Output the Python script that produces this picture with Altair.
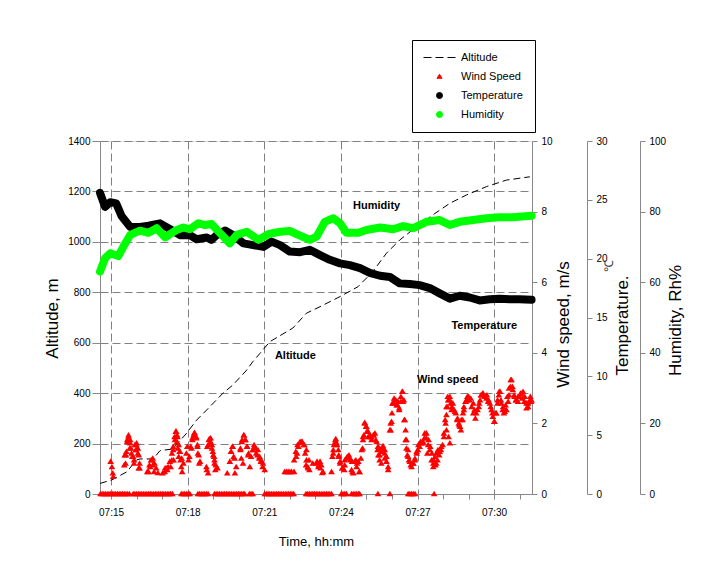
import altair as alt
import pandas as pd

FONT = "Liberation Sans, Arial, sans-serif"

# time in seconds after 07:00:00
TIME_DOMAIN = [874, 1889]

ALT_TIME = [874, 902, 937, 960, 968, 999, 1015, 1043, 1074, 1101, 1132, 1163, 1186, 1219, 1233, 1250,
            1273, 1327, 1359, 1391, 1438, 1480, 1515, 1547, 1578, 1618, 1656, 1696, 1735, 1782, 1829, 1884]
ALT_M = [42, 56, 88, 135, 139, 139, 172, 178, 234, 293, 346, 400, 432, 492, 525, 558,
         604, 658, 717, 743, 783, 822, 882, 955, 1007, 1060, 1107, 1153, 1186, 1219, 1245, 1258]

TEMP_TIME = [874, 886, 898, 912, 925, 945, 968, 988, 1015, 1039, 1062, 1085, 1101, 1125, 1136, 1148,
             1168, 1187, 1211, 1234, 1258, 1277, 1297, 1320, 1344, 1367, 1391, 1414, 1438, 1461, 1485,
             1508, 1532, 1555, 1578, 1602, 1625, 1649, 1672, 1696, 1719, 1743, 1766, 1790, 1813, 1837,
             1860, 1888]
TEMP_C = [25.6, 24.4, 24.8, 24.7, 23.6, 22.7, 22.7, 22.8, 23.0, 22.5, 22.0, 22.0, 21.65, 21.8, 21.6, 22.0,
          22.4, 22.0, 21.3, 21.15, 21.0, 21.45, 21.15, 20.6, 20.55, 20.75, 20.3, 19.9, 19.6, 19.45, 19.2,
          18.8, 18.55, 18.45, 17.9, 17.85, 17.75, 17.5, 17.05, 16.6, 16.85, 16.7, 16.45, 16.55, 16.6, 16.55,
          16.55, 16.5]

HUM_TIME = [874, 886, 898, 917, 929, 945, 968, 988, 1007, 1027, 1054, 1070, 1085, 1105, 1121, 1136,
            1156, 1179, 1195, 1219, 1246, 1269, 1297, 1320, 1344, 1367, 1383, 1402, 1422, 1438, 1453,
            1481, 1500, 1532, 1563, 1586, 1610, 1641, 1672, 1696, 1719, 1751, 1782, 1813, 1844, 1888]
HUM_PCT = [63.0, 66.8, 68.2, 67.4, 70.1, 73.4, 74.6, 74.0, 75.3, 72.7, 74.8, 75.5, 75.0, 76.7, 76.2, 76.5,
           73.9, 71.0, 73.4, 74.3, 72.0, 73.6, 74.3, 74.5, 73.2, 72.0, 72.9, 77.1, 78.1, 76.7, 74.0,
           74.0, 74.8, 75.5, 75.0, 75.9, 75.3, 77.1, 77.6, 76.2, 77.1, 77.6, 78.1, 78.4, 78.4, 78.8]

# non-zero wind readings
WIND_TIME = [
    899, 902, 904, 905,
    931, 935, 938, 941, 945, 947, 950, 954, 958, 960, 963, 965, 967,
    932, 934, 936, 938, 941, 944, 945, 948, 952, 954, 956, 959, 959, 963, 965, 967,
    985, 990, 994, 998, 1002, 1006, 1010, 988, 992, 995, 998, 1001,
    1021, 1027, 1032, 1026, 1030, 1034, 1038,
    1040, 1043, 1046, 1050, 1053, 1056, 1059, 1062, 1066, 1070,
    1043, 1046, 1047, 1049, 1052, 1055, 1055, 1057, 1059, 1061, 1063, 1065, 1067,
    1084, 1087, 1091, 1096, 1100, 1103, 1106, 1109,
    1077, 1079, 1082, 1089, 1091, 1094, 1096, 1100, 1103, 1104, 1107,
    1125, 1128, 1131, 1134, 1137, 1140, 1143, 1146, 1150,
    1124, 1126, 1128, 1130, 1134, 1137, 1139, 1142, 1143, 1145,
    1182, 1185, 1188, 1191, 1173, 1179, 1182, 1186, 1190, 1194,
    1204, 1208, 1212, 1215, 1219, 1222, 1226,
    1204, 1206, 1207, 1210, 1212, 1216, 1220, 1223,
    1233, 1236, 1240, 1244, 1248, 1252, 1256,
    1229, 1233, 1237, 1241, 1245, 1249, 1253, 1257, 1261,
    1308, 1316, 1324, 1312, 1320, 1330,
    1330, 1334, 1338, 1344, 1349, 1354, 1358, 1359, 1363, 1365,
    1335, 1337, 1340, 1344, 1348, 1353, 1356, 1359, 1362, 1366, 1374, 1382,
    1384, 1388, 1392, 1396, 1387, 1391, 1394, 1398,
    1418, 1422, 1425, 1428, 1431, 1435, 1438,
    1420, 1422, 1424, 1427, 1430, 1434, 1435, 1438,
    1444, 1449, 1455, 1459, 1463, 1467,
    1443, 1448, 1449, 1453, 1457, 1463, 1465, 1466, 1469,
    1475, 1478, 1483, 1487, 1489, 1473, 1477, 1481, 1484,
    1492, 1496, 1500, 1504, 1508, 1512, 1517, 1522, 1527, 1531,
    1491, 1492, 1494, 1496, 1499, 1501, 1504, 1508, 1512, 1516, 1520, 1524, 1526,
    1535, 1539, 1543, 1547, 1551,
    1528, 1531, 1531, 1535, 1535, 1539, 1543, 1543, 1547, 1551,
    1557, 1559, 1561, 1565, 1569, 1573, 1577, 1581, 1585, 1588, 1590, 1592, 1594,
    1555, 1557, 1560, 1563, 1567, 1571, 1574, 1577, 1581, 1584, 1586, 1589, 1592, 1594, 1598,
    1596, 1600, 1604, 1610, 1614,
    1598, 1602, 1606, 1610, 1614,
    1618, 1622, 1627, 1632, 1636, 1641, 1646, 1650,
    1618, 1621, 1625, 1629, 1633, 1637, 1641, 1643, 1645, 1649,
    1654, 1658, 1662, 1667, 1671, 1675, 1679,
    1653, 1657, 1657, 1661, 1664, 1664, 1668, 1672, 1676,
    1682, 1685, 1688, 1691, 1696, 1700, 1703, 1708, 1713, 1718, 1722,
    1682, 1686, 1688, 1688, 1690, 1692, 1693, 1696, 1696, 1698,
    1701, 1706, 1710, 1714, 1717, 1720, 1723, 1727, 1729,
    1726, 1729, 1733, 1737, 1742, 1747, 1751, 1756, 1761, 1765,
    1733, 1737, 1740, 1745, 1751, 1754, 1758,
    1769, 1773, 1778, 1783, 1787, 1792, 1796, 1800, 1804,
    1764, 1767, 1770, 1774, 1778, 1782, 1786, 1790, 1794, 1797, 1801, 1805, 1808,
    1808, 1812, 1816, 1820, 1823, 1827, 1831, 1835, 1839, 1843, 1847, 1851, 1856, 1862, 1866, 1871,
    1876, 1880, 1885, 1888,
    1811, 1814, 1817, 1821, 1825, 1829, 1833, 1835, 1838, 1841, 1844, 1848,
    1852, 1856, 1860, 1864, 1868, 1872, 1876, 1880, 1884, 1887,
]
WIND_MS = [
    0.92, 0.77, 0.59, 0.49,
    0.82, 1.10, 1.53, 1.67, 1.53, 1.29, 1.06, 0.96, 1.25, 1.44, 1.29, 1.10, 0.73,
    1.10, 0.87, 1.20, 1.48, 1.62, 1.30, 1.44, 1.15, 1.06, 0.87, 1.39, 1.39, 1.25, 1.15, 0.73, 0.87,
    0.63, 0.82, 0.96, 1.01, 0.87, 0.73, 0.60, 0.63, 0.77, 0.96, 0.82, 0.63,
    0.59, 0.73, 0.68, 0.63, 0.73, 0.77, 0.92,
    0.77, 0.96, 1.25, 1.53, 1.77, 1.62, 1.39, 1.20, 1.01, 0.87,
    1.15, 1.34, 0.96, 1.62, 1.77, 1.67, 1.48, 1.29, 1.06, 1.20, 0.96, 0.77, 0.63,
    1.06, 1.34, 1.58, 1.74, 1.62, 1.34, 1.10, 0.92,
    1.15, 1.34, 0.96, 1.29, 1.53, 1.67, 1.72, 1.58, 1.39, 1.15, 0.87,
    0.68, 1.39, 1.56, 1.48, 1.29, 1.10, 0.96, 0.82, 0.73,
    0.77, 1.34, 0.59, 1.53, 1.58, 1.39, 1.20, 1.06, 0.87, 0.68,
    1.20, 1.34, 1.06, 0.59, 0.59, 0.92, 1.20, 1.34, 1.01, 0.77,
    1.29, 1.53, 1.67, 1.53, 1.34, 1.10, 0.77,
    1.25, 1.01, 1.48, 0.87, 1.67, 1.53, 1.34, 1.15,
    1.25, 1.39, 1.29, 1.10, 1.01, 0.92, 0.77,
    1.06, 1.25, 1.34, 1.15, 1.25, 1.06, 0.96, 0.87, 0.68,
    0.63, 0.63, 0.63, 0.63, 0.63, 0.63,
    0.96, 1.20, 1.39, 1.48, 1.48, 1.39, 0.82, 1.25, 0.73, 0.96,
    1.06, 1.15, 1.34, 1.45, 1.48, 1.39, 1.15, 0.96, 0.77, 0.68, 0.87, 0.87,
    0.92, 0.82, 0.73, 0.60, 0.77, 0.92, 0.82, 0.63,
    0.63, 1.15, 1.44, 1.56, 1.39, 1.10, 0.92,
    1.06, 1.25, 1.39, 1.53, 1.44, 1.25, 1.06, 0.87,
    0.73, 0.96, 1.06, 1.10, 0.96, 0.63,
    0.73, 0.68, 0.82, 1.01, 1.06, 0.98, 0.68, 0.92, 0.59,
    0.96, 0.87, 0.63, 1.01, 1.25, 0.92, 0.77, 0.92, 0.63,
    1.62, 2.02, 1.91, 1.77, 1.67, 1.61, 1.67, 1.53, 1.34, 1.10,
    1.29, 1.53, 1.67, 2.00, 1.91, 1.77, 1.62, 1.62, 1.53, 1.67, 1.72, 1.48, 1.25,
    1.25, 1.36, 1.25, 1.06, 0.77,
    1.10, 1.29, 0.96, 1.20, 0.87, 1.25, 1.15, 1.01, 0.92, 0.68,
    1.81, 2.05, 2.57, 2.71, 2.66, 2.52, 2.38, 2.62, 2.90, 2.66, 2.10, 1.53, 1.29,
    1.81, 2.00, 2.29, 2.57, 2.66, 2.52, 2.62, 2.43, 2.76, 2.90, 2.62, 2.10, 1.81, 1.53, 1.25,
    1.10, 0.96, 0.82, 0.87, 1.01,
    1.06, 0.92, 0.77, 0.87, 0.96,
    1.20, 1.39, 1.48, 1.44, 1.58, 1.72, 1.53, 1.34,
    1.15, 1.25, 1.34, 1.44, 1.48, 1.72, 1.58, 1.15, 1.39, 1.25,
    1.15, 0.96, 0.82, 0.96, 1.10, 1.25, 1.39,
    0.96, 0.87, 0.77, 1.06, 1.15, 0.87, 1.25, 1.20, 1.34,
    1.72, 2.10, 2.47, 2.76, 2.66, 2.38, 2.57, 2.33, 2.10, 1.95, 1.81,
    1.62, 2.00, 2.24, 1.81, 2.47, 2.66, 1.62, 2.76, 1.44, 2.57,
    2.47, 2.38, 2.29, 2.14, 2.00, 1.91, 2.10, 2.29, 2.47,
    2.10, 2.38, 2.62, 2.76, 2.66, 2.47, 2.29, 2.14, 2.38, 2.57,
    2.62, 2.66, 2.76, 2.71, 2.57, 2.38, 2.29,
    2.80, 2.85, 2.76, 2.80, 2.66, 2.47, 2.29, 2.05, 2.29,
    2.47, 2.66, 2.80, 2.85, 2.76, 2.71, 2.62, 2.57, 2.38, 2.19, 2.05, 2.29, 2.57,
    2.66, 2.90, 2.66, 2.38, 2.29, 2.52, 2.76, 2.99, 3.23, 3.04, 2.80, 2.66, 2.76, 2.85, 2.71, 2.62,
    2.43, 2.57, 2.76, 2.66,
    2.80, 2.90, 2.57, 2.47, 2.33, 2.38, 2.62, 2.80, 3.04, 3.23, 2.95, 2.76,
    2.66, 2.62, 2.76, 2.85, 2.90, 2.76, 2.57, 2.47, 2.66, 2.62,
]
# readings of 0 m/s
CALM_TIME = [
    875, 879, 883, 887, 891, 895, 899, 903, 907, 911, 915, 919, 923, 927, 931, 935, 939, 943,
    952, 956, 960, 964, 968, 972, 976, 980, 984, 988, 992, 996, 1000, 1004, 1008, 1012, 1016, 1020,
    1024, 1028, 1032, 1036, 1040, 1044,
    1065, 1069, 1073, 1077, 1081, 1085,
    1104, 1108, 1112, 1116, 1120, 1124, 1128,
    1143, 1147, 1151, 1155, 1159, 1163, 1167, 1171, 1175, 1179, 1183, 1187, 1191, 1195, 1199, 1203,
    1207, 1211, 1214,
    1225, 1229, 1233,
    1261, 1265, 1269, 1273, 1277, 1281, 1285, 1289, 1293, 1297, 1301, 1305, 1309, 1313, 1317, 1321,
    1325, 1329,
    1358, 1362, 1366, 1370, 1374, 1378, 1382, 1386, 1390, 1394, 1398, 1402, 1406, 1410, 1414, 1418,
    1441, 1445, 1449, 1453,
    1465, 1469, 1473, 1477, 1481, 1484,
    1527, 1555,
    1598, 1602, 1606, 1610, 1614,
    1659,
]

SERIES = ["Altitude", "Wind Speed", "Temperature", "Humidity"]
SERIES_COLORS = ["black", "red", "black", "#00ff00"]
DASH_PATH = "M-5.33,0H-2.67M-1.33,0H1.33M2.67,0H5.33"
TRI_PATH = "M0,-0.75L0.85,0.6L-0.85,0.6Z"
WIND_TRI = "M0,-1L1.05,0.75L-1.05,0.75Z"

ANNOT_TEXT = ["Humidity", "Temperature", "Altitude", "Wind speed"]
ANNOT_TIME = [1524, 1777, 1333, 1691]
ANNOT_ALT = [1142, 666, 547, 452]

alt_df = pd.DataFrame({"t": ALT_TIME, "v": ALT_M})
temp_df = pd.DataFrame({"t": TEMP_TIME, "v": TEMP_C})
hum_df = pd.DataFrame({"t": HUM_TIME, "v": HUM_PCT})
wind_df = pd.DataFrame({"t": WIND_TIME + CALM_TIME, "v": WIND_MS + [0.0] * len(CALM_TIME)})
annot_df = pd.DataFrame({"label": ANNOT_TEXT, "t": ANNOT_TIME, "v": ANNOT_ALT})
legend_df = pd.DataFrame({"series": SERIES, "t": [0] * 4})
deg_df = pd.DataFrame({"label": ["\u2103"], "t": [2069], "v": [19.4]})

GRID = dict(grid=True, gridDash=[8, 4], gridColor="#808080", gridWidth=1)

x_enc = alt.X(
    "t:Q",
    scale=alt.Scale(domain=TIME_DOMAIN, nice=False, zero=False),
    axis=alt.Axis(
        values=list(range(900, 1861, 60)),
        labelExpr="datum.value % 180 == 0 ? '07:' + format(datum.value / 60, '02d') : ''",
        title="Time, hh:mm",
        gridOpacity={"condition": {"test": "datum.value % 180 == 0", "value": 1}, "value": 0},
        tickSize=5, labelPadding=8, labelOverlap=False, labelFlush=False,
        titlePadding=18, titleFont=FONT, titleFontSize=13, titleFontWeight="normal",
        **GRID,
    ),
)


def yaxis(**kw):
    base = dict(tickSize=5, labelPadding=4, labelOverlap=False, labelFlush=False, format="d",
                titleFont=FONT, titleFontSize=17, titleFontWeight="normal",
                titleAngle=270, titleAlign="center", titleBaseline="middle", titleY=177)
    base.update(kw)
    return alt.Axis(**base)


altitude = alt.Chart(alt_df).mark_line(color="black", strokeWidth=1, strokeDash=[7, 4]).encode(
    x=x_enc,
    y=alt.Y("v:Q", scale=alt.Scale(domain=[0, 1400], nice=False),
            axis=yaxis(orient="left", values=list(range(0, 1401, 200)), title="Altitude, m",
                       tickSize=8, labelPadding=2, titleX=-48, **GRID)),
)

wind = alt.Chart(wind_df).mark_point(shape=WIND_TRI, filled=True, size=40, color="red", opacity=1).encode(
    x=x_enc,
    y=alt.Y("v:Q", scale=alt.Scale(domain=[0, 10], nice=False),
            axis=yaxis(orient="right", offset=0, values=[0, 2, 4, 6, 8, 10], title="Wind speed, m/s",
                       titleX=31, titleY=183, grid=False)),
)

temp = alt.Chart(temp_df).mark_line(color="black", strokeWidth=8, strokeCap="round", strokeJoin="round").encode(
    x=x_enc,
    y=alt.Y("v:Q", scale=alt.Scale(domain=[0, 30], nice=False),
            axis=yaxis(orient="right", offset=55, values=[0, 5, 10, 15, 20, 25, 30], title="Temperature.",
                       titleX=35, titleY=184, grid=False)),
)

hum = alt.Chart(hum_df).mark_line(color="#00ff00", strokeWidth=8, strokeCap="round", strokeJoin="round").encode(
    x=x_enc,
    y=alt.Y("v:Q", scale=alt.Scale(domain=[0, 100], nice=False),
            axis=yaxis(orient="right", offset=108, values=[0, 20, 40, 60, 80, 100], title="Humidity, Rh%",
                       titleX=35, titleY=179, grid=False)),
)

annot = alt.Chart(annot_df).mark_text(font=FONT, fontSize=11, fontWeight="bold", color="black",
                                      align="center", baseline="middle").encode(
    x=x_enc,
    y=alt.Y("v:Q", scale=alt.Scale(domain=[0, 1400], nice=False), axis=None),
    text="label:N",
)

deg = alt.Chart(deg_df).mark_text(font=FONT, fontSize=12, color="#333333", angle=270,
                                  align="center", baseline="middle", clip=False).encode(
    x=x_enc,
    y=alt.Y("v:Q", scale=alt.Scale(domain=[0, 30], nice=False), axis=None),
    text="label:N",
)

leg = dict(title=None, orient="none", legendX=312, legendY=-101, strokeColor="black", fillColor="white",
           padding=12, symbolOffset=10, labelOffset=16, rowPadding=7, labelFont=FONT, labelFontSize=11,
           labelColor="black", symbolStrokeWidth=1, symbolSize=36, cornerRadius=0)

legend_layer = alt.Chart(legend_df).mark_point(filled=True, size=36, clip=True, opacity=1, strokeWidth=1).encode(
    x=x_enc,
    y=alt.value(0),
    shape=alt.Shape("series:N", scale=alt.Scale(domain=SERIES, range=[DASH_PATH, TRI_PATH, "circle", "circle"]),
                    legend=alt.Legend(**leg)),
    fill=alt.Fill("series:N", scale=alt.Scale(domain=SERIES, range=SERIES_COLORS), legend=alt.Legend(**leg)),
    stroke=alt.Stroke("series:N", scale=alt.Scale(domain=SERIES, range=SERIES_COLORS), legend=alt.Legend(**leg)),
)

chart = alt.layer(altitude, wind, temp, hum, annot, deg, legend_layer).resolve_scale(
    y="independent"
).properties(
    width=432, height=353,
    padding={"left": 92, "top": 133, "right": 175, "bottom": 60},
    autosize=alt.AutoSizeParams(type="none"),
).configure_view(stroke=None).configure_axis(
    labelFont=FONT, labelFontSize=11.5, labelColor="black", domainColor="black", tickColor="black",
    titleColor="black",
).configure(background="white")

chart.save("out.html", embed_options={"renderer": "svg", "actions": False})
